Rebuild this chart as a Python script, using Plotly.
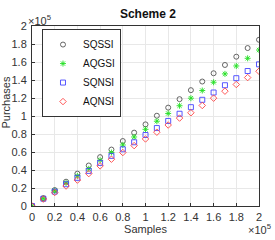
import plotly.graph_objects as go

samples = [0, 0.1, 0.2, 0.3, 0.4, 0.5, 0.6, 0.7, 0.8, 0.9, 1.0, 1.1, 1.2, 1.3, 1.4, 1.5, 1.6, 1.7, 1.8, 1.9, 2.0]
sqssi = [0, 0.087, 0.177, 0.27, 0.36, 0.45, 0.543, 0.627, 0.722, 0.815, 0.907, 1.003, 1.093, 1.187, 1.287, 1.383, 1.475, 1.567, 1.659, 1.755, 1.847]
aqgsi = [0, 0.084, 0.17, 0.257, 0.335, 0.413, 0.508, 0.594, 0.678, 0.767, 0.852, 0.942, 1.028, 1.114, 1.198, 1.283, 1.375, 1.468, 1.556, 1.641, 1.733]
sqnsi = [0, 0.081, 0.16, 0.242, 0.313, 0.39, 0.479, 0.557, 0.63, 0.708, 0.789, 0.866, 0.945, 1.025, 1.098, 1.18, 1.261, 1.342, 1.42, 1.50, 1.574]
aqnsi = [0, 0.077, 0.15, 0.222, 0.288, 0.36, 0.446, 0.52, 0.594, 0.671, 0.745, 0.82, 0.90, 0.977, 1.036, 1.117, 1.198, 1.276, 1.35, 1.427, 1.497]

x_ticks = [0, 0.2, 0.4, 0.6, 0.8, 1, 1.2, 1.4, 1.6, 1.8, 2]
x_labels = ["0", "0.2", "0.4", "0.6", "0.8", "1", "1.2", "1.4", "1.6", "1.8", "2"]
y_ticks = [0, 0.2, 0.4, 0.6, 0.8, 1, 1.2, 1.4, 1.6, 1.8, 2]
y_labels = ["0", "0.2", "0.4", "0.6", "0.8", "1", "1.2", "1.4", "1.6", "1.8", "2"]

series = [
    ("SQSSI", sqssi, "circle-open", "#555555"),
    ("AQGSI", aqgsi, "asterisk-open", "#22e022"),
    ("SQNSI", sqnsi, "square-open", "#4545ff"),
    ("AQNSI", aqnsi, "diamond-open", "#ff4545"),
]

fig = go.Figure()
for name, ys, sym, col in series:
    fig.add_trace(go.Scatter(
        x=samples, y=ys, mode="markers", name=name,
        marker=dict(symbol=sym, size=5, color=col, line=dict(color=col, width=0.9)),
    ))

axis_common = dict(
    showgrid=True, gridcolor="#e8e8e8", gridwidth=1,
    showline=True, linecolor="#333333", linewidth=1, mirror=True,
    ticks="inside", ticklen=3, tickcolor="#333333",
    tickfont=dict(size=11, color="#333333"), zeroline=False, automargin=False,
)

fig.update_layout(
    width=275, height=240,
    margin=dict(l=32, r=16, t=26, b=34),
    paper_bgcolor="white", plot_bgcolor="white",
    font=dict(family="Liberation Sans, Arial, sans-serif", color="#333333"),
    title=dict(text="<b>Scheme 2</b>", x=0.538, xanchor="center", y=0.942, yanchor="middle",
               font=dict(size=12, color="#111111")),
    xaxis=dict(range=[0, 2], tickvals=x_ticks, ticktext=x_labels, ticklabelstandoff=1,
               title=dict(text="Samples", font=dict(size=11), standoff=2), **axis_common),
    yaxis=dict(range=[0, 2], tickvals=y_ticks, ticktext=y_labels, ticklabelstandoff=2,
               **axis_common),
    legend=dict(x=0.044, y=0.983, xanchor="left", yanchor="top",
                bgcolor="white", bordercolor="#333333", borderwidth=1,
                font=dict(size=10, color="#111111"), itemwidth=30,
                tracegroupgap=0),
    showlegend=True,
)

# y-axis title (placed as in the reference, slightly above the axis centre)
fig.add_annotation(xref="paper", yref="paper", x=(5.5 - 32) / 227, y=(206 - 103) / 180,
                   xanchor="center", yanchor="middle", textangle=-90,
                   text="Purchases", showarrow=False, font=dict(size=11, color="#333333"))
fig.add_annotation(xref="paper", yref="paper", x=-0.022, y=1.0, xanchor="left", yanchor="bottom",
                   text="×10<sup>5</sup>", showarrow=False, font=dict(size=11, color="#333333"),
                   borderpad=0, yshift=-2)
fig.add_annotation(xref="paper", yref="paper", x=1.057, y=-0.085, xanchor="right", yanchor="top",
                   text="×10<sup>5</sup>", showarrow=False, font=dict(size=11, color="#333333"),
                   borderpad=0)

fig.write_html("out.html", config={"displayModeBar": False},
               post_script="document.body.style.margin='0';")
